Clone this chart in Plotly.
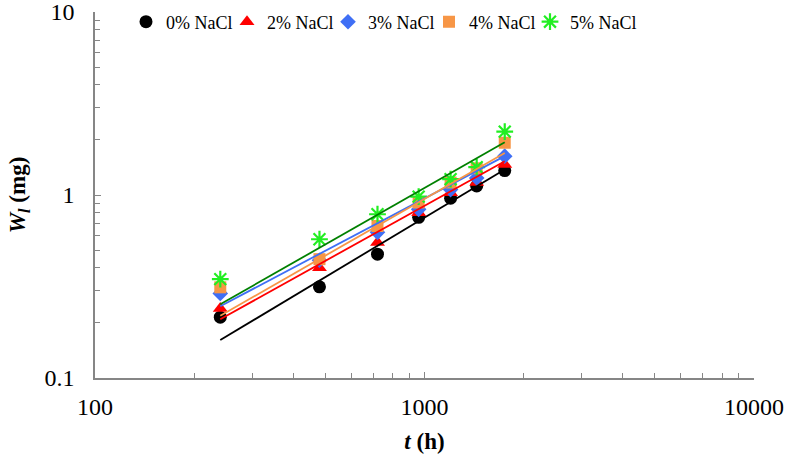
import numpy as np
import plotly.graph_objects as go

# ---- data ----
hours = [240, 480, 720, 960, 1200, 1440, 1752]
series_names = ["0% NaCl", "2% NaCl", "3% NaCl", "4% NaCl", "5% NaCl"]
w_nacl0 = [0.215, 0.315, 0.475, 0.755, 0.96, 1.12, 1.36]
w_nacl2 = [0.24, 0.40, 0.55, 0.80, 1.03, 1.17, 1.47]
w_nacl3 = [0.29, 0.44, 0.625, 0.835, 1.07, 1.24, 1.63]
w_nacl4 = [0.313, 0.446, 0.677, 0.91, 1.17, 1.40, 1.93]
w_nacl5 = [0.347, 0.573, 0.785, 0.98, 1.22, 1.42, 2.22]
# power-law trendlines W = a * t^b
trend_coef = [4.33e-4, 8.73e-4, 1.352e-3, 7.74e-4, 9.19e-4]
trend_exp = [1.08, 1.00, 0.95, 1.03, 1.025]

x_ticks = [100, 1000, 10000]
y_ticks = [0.1, 1, 10]
y_tick_text = ["0.1", "1", "10"]

# ---- styles ----
marker_styles = [
    dict(symbol="circle", size=13, color="#000000"),
    dict(symbol="triangle-up", size=13, color="#FF0000"),
    dict(symbol="diamond", size=12, color="#3F6FF5"),
    dict(symbol="square", size=12, color="#F79646"),
    dict(symbol="asterisk-open", size=14, color="#22EE22", line=dict(color="#22EE22", width=2.2)),
]
line_colors = ["#000000", "#FF0000", "#3F6FF5", "#F79646", "#008000"]

series_values = [w_nacl0, w_nacl2, w_nacl3, w_nacl4, w_nacl5]

W, H = 787, 473
ML, MR, MT, MB = 95, 33, 12, 95
legend_ids = ["legend"] + ["legend%d" % (i + 1) for i in range(1, len(series_names))]

fig = go.Figure()
for name, vals, ms, lid in zip(series_names, series_values, marker_styles, legend_ids):
    fig.add_trace(go.Scatter(x=hours, y=vals, mode="markers", name=name, marker=ms,
                             legend=lid))

t_line = np.array([hours[0], hours[-1]], dtype=float)
for a, b, c in zip(trend_coef, trend_exp, line_colors):
    fig.add_trace(go.Scatter(x=t_line, y=a * t_line ** b, mode="lines",
                             line=dict(color=c, width=1.8), showlegend=False,
                             hoverinfo="skip"))

minor_x = [m * 10 ** k for k in (2, 3) for m in range(2, 10)]
minor_y = [m * 10 ** k for k in (-1, 0) for m in range(2, 10)]

legend_layouts = {}
for k, lid in enumerate(legend_ids):
    left_px = 126 + 101 * k
    legend_layouts[lid] = dict(
        orientation="h", xref="container", yref="container",
        x=left_px / W, y=1 - 22 / H, xanchor="left", yanchor="middle",
        font=dict(family="Liberation Serif", size=18), itemwidth=30,
        bgcolor="rgba(0,0,0,0)")

axis_col = "#868686"
fig.update_layout(
    width=W, height=H,
    margin=dict(l=ML, r=MR, t=MT, b=MB, autoexpand=False),
    paper_bgcolor="white", plot_bgcolor="white",
    font=dict(family="Liberation Serif", size=24, color="black"),
    showlegend=True,
    xaxis=dict(type="log", range=[2, 4], showgrid=False, zeroline=False,
               automargin=False, ticklabeloverflow="allow",
               showline=True, linecolor=axis_col, linewidth=1.5,
               ticks="inside", ticklen=6, tickcolor=axis_col, tickwidth=1.2,
               tickvals=x_ticks, ticktext=[str(v) for v in x_ticks],
               ticklabelstandoff=6,
               minor=dict(tickvals=minor_x, ticks="inside", ticklen=5,
                          tickcolor=axis_col, tickwidth=1.2, showgrid=False),
               title=dict(text="<b><i>t</i> (h)</b>", font=dict(size=23), standoff=14)),
    yaxis=dict(type="log", range=[-1, 1], showgrid=False, zeroline=False,
               automargin=False, ticklabeloverflow="allow",
               showline=True, linecolor=axis_col, linewidth=1.5,
               ticks="inside", ticklen=6, tickcolor=axis_col, tickwidth=1.2,
               tickvals=y_ticks, ticktext=y_tick_text,
               ticklabelstandoff=14,
               minor=dict(tickvals=minor_y, ticks="inside", ticklen=5,
                          tickcolor=axis_col, tickwidth=1.2, showgrid=False),
               title=dict(text="<b><i>W</i><sub><i>l</i></sub> (mg)</b>", font=dict(size=23), standoff=12)),
    **legend_layouts,
)

fig.write_html("out.html", config={"displayModeBar": False},
               post_script="document.body.style.margin='0';")
